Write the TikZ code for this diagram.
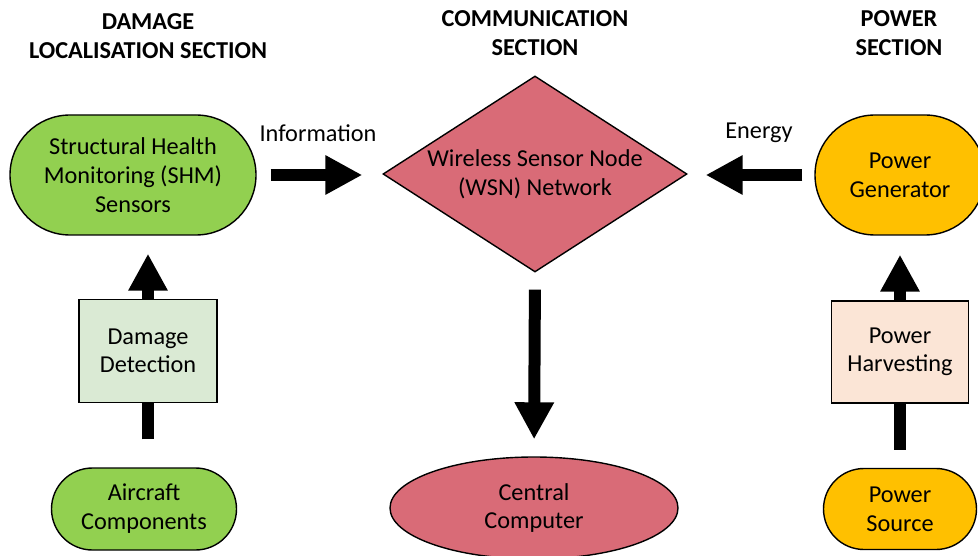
\documentclass[tikz,border=0pt]{standalone}
\usepackage{fontspec}
\setmainfont{Carlito}
\usetikzlibrary{arrows.meta,positioning,shapes.geometric,shapes.misc}
\definecolor{shmgreen}{HTML}{92D050}
\definecolor{detgreen}{HTML}{DAEAD4}
\definecolor{wsnred}{HTML}{D96B77}
\definecolor{pwrgold}{HTML}{FFC000}
\definecolor{harvpeach}{HTML}{FBE5D6}

\begin{document}
\begin{tikzpicture}[
    x=1pt, y=-1pt,
    pill/.style={draw, rounded rectangle, line width=1.4pt, inner sep=0pt, align=center, font=\fontsize{24.3}{29}\selectfont},
    box/.style={draw, rectangle, line width=1.4pt, inner sep=0pt, align=center, font=\fontsize{24.3}{28}\selectfont},
    hdr/.style={font=\fontsize{24.3}{29}\selectfont\bfseries, align=center},
    lbl/.style={font=\fontsize{24.3}{25}\selectfont},
    blk/.style={-{Triangle[length=37pt,width=37pt]}, line width=12pt},
    shaft/.style={line width=12pt},
  ]
  \useasboundingbox (0,0) rectangle (978,556);

  % section headings
  \node[hdr] (hdmg) at (148,36) {DAMAGE\\LOCALISATION SECTION};
  \node[hdr] (hcom) at (535,33) {COMMUNICATION\\SECTION};
  \node[hdr] (hpwr) at (899,33) {POWER\\SECTION};

  % (a) damage localisation
  \node[pill, fill=shmgreen, minimum width=246pt, minimum height=120pt] (shm) at (133,175) {Structural Health\\Monitoring (SHM)\\Sensors};
  \node[box, fill=detgreen, minimum width=138pt, minimum height=103pt] (det) at (148,351) {Damage\\Detection};
  \node[pill, fill=shmgreen, minimum width=185pt, minimum height=82pt] (air) at (144,509) {Aircraft\\Components};

  % (b) communication
  \node[diamond, draw, fill=wsnred, line width=1.4pt, inner sep=0pt, aspect=1.55, minimum width=304pt, minimum height=196pt, align=center, font=\fontsize{24.3}{29}\selectfont] (wsn) at (535,174) {Wireless Sensor Node\\(WSN) Network};
  \node[ellipse, draw, fill=wsnred, line width=1.4pt, inner sep=0pt, minimum width=288pt, minimum height=102pt, align=center, font=\fontsize{24.3}{28}\selectfont] (cc) at (534,508) {Central\\Computer};

  % (c) power
  \node[pill, fill=pwrgold, minimum width=170pt, minimum height=120pt] (gen) at (900,175) {Power\\Generator};
  \node[box, fill=harvpeach, minimum width=137pt, minimum height=102pt] (harv) at (900,352) {Power\\Harvesting};
  \node[pill, fill=pwrgold, minimum width=153pt, minimum height=81pt] (src) at (900,509) {Power\\Source};

  % flow labels
  \node[lbl] (linfo) at (318,133) {Information};
  \node[lbl] (lnrg) at (759,133) {Energy};

  % block arrows
  \draw[blk, shorten <=14pt, shorten >=20pt] (shm.east) -- (shm.east -| wsn.west);
  \draw[blk, shorten <=12pt, shorten >=18pt] (gen.west) -- (gen.west -| wsn.east);
  \draw[blk, shorten <=17pt, shorten >=17pt] (wsn.south) -- (cc.north);
  \draw[shaft, shorten <=28pt] (air.north -| det) -- (det.south);
  \draw[blk, shorten >=18pt] (det.north) -- (det.north |- shm.south);
  \draw[shaft, shorten <=18pt] (src.north) -- (harv.south);
  \draw[blk, shorten >=19pt] (harv.north) -- (gen.south);
\end{tikzpicture}
\end{document}
